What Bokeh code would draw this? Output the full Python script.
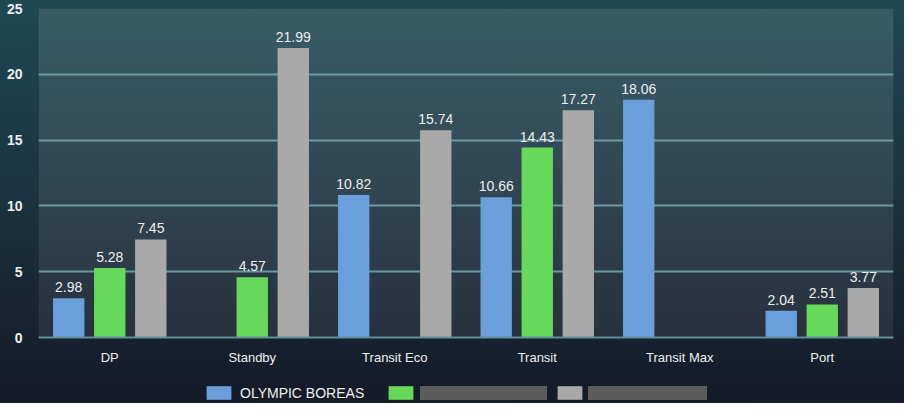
from bokeh.plotting import figure
from bokeh.layouts import column
from bokeh.models import (ColumnDataSource, FactorRange, Range1d, Legend, LegendItem,
                          BoxAnnotation, FixedTicker)
from bokeh.transform import dodge
from bokeh.core.properties import value
from bokeh.embed import file_html
from bokeh.resources import INLINE

# ---------------- data ----------------
categories = ["DP", "Standby", "Transit Eco", "Transit", "Transit Max", "Port"]
olympic_boreas = [2.98, None, 10.82, 10.66, 18.06, 2.04]
series_b = [5.28, 4.57, None, 14.43, None, 2.51]      # name redacted in source
series_c = [7.45, 21.99, 15.74, 17.27, None, 3.77]    # name redacted in source
series_labels = ["OLYMPIC BOREAS", None, None]
y_ticks = [0, 5, 10, 15, 20, 25]

FONT = value("Liberation Sans")
TEXT_COLOR = "#eeeeee"
colors = ["#6a9fdc", "#66d95a", "#aaa9aa"]
offsets = [-0.288, 0.0, 0.288]

p = figure(x_range=FactorRange(*categories), y_range=Range1d(y_ticks[0], y_ticks[-1]),
           width=904, height=372, output_backend="svg", toolbar_location=None,
           min_border_left=38, min_border_right=11, min_border_top=8, min_border_bottom=35,
           background_fill_color=None, border_fill_color=None, outline_line_color=None)

# lighter plot-area panel (slightly stronger towards the top)
for i in range(len(y_ticks) - 1):
    p.add_layout(BoxAnnotation(bottom=y_ticks[i], top=y_ticks[i + 1], fill_color="white",
                               fill_alpha=0.075 + 0.01 * i, line_color=None, level="underlay"))

series = [olympic_boreas, series_b, series_c]
for vals, col, off in zip(series, colors, offsets):
    cats = [c for c, v in zip(categories, vals) if v is not None]
    vs = [v for v in vals if v is not None]
    src = ColumnDataSource(dict(cat=cats, val=vs, label=[f"{v:.2f}" for v in vs]))
    p.vbar(x=dodge("cat", off, range=p.x_range), top="val", width=0.22, source=src,
           fill_color=col, line_color=None)
    p.text(x=dodge("cat", off, range=p.x_range), y="val", text="label", source=src,
           text_align="center", text_baseline="bottom", y_offset=-6,
           text_font=FONT, text_font_size="14px", text_color=TEXT_COLOR)

# axes / grid
p.xgrid.grid_line_color = None
p.ygrid.grid_line_color = "#5f9096"
p.ygrid.grid_line_width = 2
p.yaxis.ticker = FixedTicker(ticks=y_ticks)
p.yaxis.axis_line_color = None
p.yaxis.major_tick_line_color = None
p.yaxis.minor_tick_line_color = None
p.yaxis.major_label_standoff = 10
p.yaxis.major_label_text_font = "Liberation Sans"
p.yaxis.major_label_text_font_size = "14px"
p.yaxis.major_label_text_font_style = "bold"
p.yaxis.major_label_text_color = TEXT_COLOR
p.xaxis.axis_line_color = "#5f9096"
p.xaxis.axis_line_width = 2
p.xaxis.major_tick_line_color = None
p.xaxis.minor_tick_line_color = None
p.xaxis.major_label_standoff = 6
p.xaxis.major_label_text_font = "Liberation Sans"
p.xaxis.major_label_text_font_size = "13px"
p.xaxis.major_label_text_color = TEXT_COLOR

# ---------------- legend strip (redacted names shown as grey smudges) ----------------
q = figure(width=904, height=31, output_backend="svg", toolbar_location=None,
           x_range=Range1d(0, 1), y_range=Range1d(0, 1),
           x_axis_location=None, y_axis_location=None, min_border=0,
           background_fill_color=None, border_fill_color=None, outline_line_color=None)
q.grid.grid_line_color = None

# legend-only proxies, placed outside the visible range of the strip
swatches = [q.vbar(x=[-5], top=[-5], width=1, fill_color=c, line_color=None) for c in colors]
smudge = q.line(x=[-6, -5], y=[-6, -5], line_color="#5c5c5c", line_width=14, line_cap="round")


def add_legend(renderer, label, x, gw, standoff=6):
    lg = Legend(items=[LegendItem(label=label, renderers=[renderer])], location=(x, 2),
                orientation="horizontal", glyph_width=gw, glyph_height=17, label_height=17,
                label_standoff=standoff, padding=0, margin=0, spacing=0,
                border_line_color=None, background_fill_alpha=0,
                label_text_color=TEXT_COLOR, label_text_font="Liberation Sans",
                label_text_font_size="14px")
    q.add_layout(lg, "center")


add_legend(swatches[0], series_labels[0], 165, 31)
add_legend(swatches[1], " ", 347, 31, 0)
add_legend(smudge, " ", 382, 127, 0)
add_legend(swatches[2], " ", 516, 31, 0)
add_legend(smudge, " ", 550, 119, 0)

layout = column(p, q, spacing=0)
layout.stylesheets = [":host { background: linear-gradient(to bottom, #1f4852 0%, #1c3744 40%, #161d2a 92%, #151c28 100%); }"]

open("out.html", "w").write(file_html(layout, INLINE))
